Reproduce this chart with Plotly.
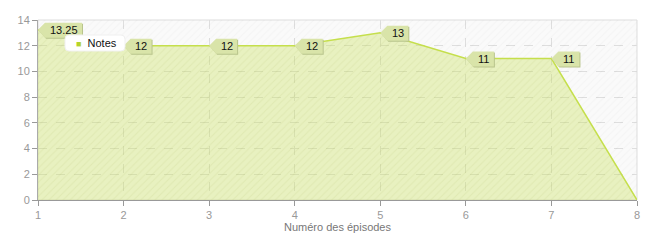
import plotly.graph_objects as go

episodes = [1, 2, 3, 4, 5, 6, 7, 8]
notes = [13.25, 12, 12, 12, 13, 11, 11, 0]
labels = ["13.25", "12", "12", "12", "13", "11", "11", ""]
y_ticks = [0, 2, 4, 6, 8, 10, 12, 14]
x_ticks = [1, 2, 3, 4, 5, 6, 7, 8]
Y_MAX = 14
series_name = "Notes"
x_title = "Numéro des épisodes"

LINE = "#c5df4c"
FILL_RGBA = "rgba(200,225,90,0.36)"
BOX = "#d9e4a9"
BOX_SHADOW = "#b9c48c"
FONT = "Liberation Sans, Arial, sans-serif"

fig = go.Figure()

# hatched plot background (pattern lines only, transparent so grid shows)
fig.add_trace(go.Scatter(
    x=[x_ticks[0], x_ticks[-1]], y=[Y_MAX, Y_MAX], mode="none", fill="tozeroy",
    fillcolor="rgba(0,0,0,0)",
    fillpattern=dict(shape="/", bgcolor="rgba(0,0,0,0)", fgcolor="rgba(0,0,0,0.05)",
                     size=5, solidity=0.2),
    hoverinfo="skip", showlegend=False))

fig.add_trace(go.Scatter(
    x=episodes, y=notes, mode="lines", fill="tozeroy",
    line=dict(color=LINE, width=1.5),
    fillcolor=FILL_RGBA,
    fillpattern=dict(shape="/", bgcolor=FILL_RGBA, fgcolor="rgba(150,180,40,0.12)",
                     size=5, solidity=0.2),
    showlegend=False, name=series_name))

shapes = []
annotations = []
for xv, yv, lab in zip(episodes, notes, labels):
    if not lab:
        continue
    w = int(round(17 + 5.4 * len(lab)))
    for dx, dy, col in ((1, -1, BOX_SHADOW), (0, 0, BOX)):
        path = (f"M{dx},{dy} L{7+dx},{7+dy} L{w+dx},{7+dy} "
                f"L{w+dx},{-8+dy} L{7+dx},{-8+dy} Z")
        shapes.append(dict(
            type="path", xref="x", yref="y", xsizemode="pixel", ysizemode="pixel",
            xanchor=xv, yanchor=yv, path=path, fillcolor=col,
            line=dict(width=0), layer="above"))
    annotations.append(dict(
        x=xv, y=yv, xref="x", yref="y", text=lab, showarrow=False,
        xanchor="center", yanchor="middle", xshift=(w + 7) / 2, yshift=0,
        font=dict(family=FONT, size=11, color="#111")))

# light border on top/right
shapes.append(dict(type="rect", xref="paper", yref="paper", x0=0, x1=1, y0=0, y1=1,
                   line=dict(color="#dddddd", width=1), layer="below"))

# legend box (drawn manually to match the compact rounded look)
LX0, LX1, LY0, LY1 = 65, 125, 35, 51  # pixels in the page
PL, PT, PW, PH = 38, 20, 599, 180
def px2paper(px, py):
    return (px - PL) / PW, (PT + PH - py) / PH
lx0, ly0 = px2paper(LX0, LY1)
lx1, ly1 = px2paper(LX1, LY0)
r = 4
shapes.append(dict(
    type="path", xref="paper", yref="paper", xsizemode="pixel", ysizemode="pixel",
    xanchor=lx0, yanchor=ly0,
    path=(f"M{r},0 L{60-r},0 Q60,0 60,{r} L60,{16-r} Q60,16 {60-r},16 "
          f"L{r},16 Q0,16 0,{16-r} L0,{r} Q0,0 {r},0 Z"),
    fillcolor="white", line=dict(color="#f0f0f0", width=1), layer="above"))
annotations.append(dict(
    x=lx0, y=(ly0 + ly1) / 2, xref="paper", yref="paper", xanchor="left", yanchor="middle",
    xshift=9, showarrow=False,
    text=f"<span style='color:#b5d32c;font-size:9px'>■</span>  {series_name}",
    font=dict(family=FONT, size=11, color="#111")))

fig.update_layout(
    width=658, height=240,
    margin=dict(l=38, r=21, t=20, b=40),
    paper_bgcolor="white", plot_bgcolor="#fafafa",
    font=dict(family=FONT, size=11, color="#888"),
    shapes=shapes, annotations=annotations,
    showlegend=False,
)
fig.update_xaxes(
    range=[x_ticks[0], x_ticks[-1]], tickvals=x_ticks, ticktext=[str(t) for t in x_ticks],
    showgrid=True, gridcolor="#dedede", griddash="dash", gridwidth=1,
    showline=True, linecolor="#999", linewidth=1,
    ticks="outside", ticklen=5, tickcolor="#999",
    tickfont=dict(color="#999", size=11),
    title=dict(text=x_title, font=dict(size=11, color="#777"), standoff=2),
    automargin=False, zeroline=False)
fig.update_yaxes(
    range=[0, Y_MAX], tickvals=y_ticks,
    showgrid=True, gridcolor="#dedede", griddash="dash", gridwidth=1,
    showline=True, linecolor="#aaa", linewidth=1,
    ticks="outside", ticklen=5, tickcolor="#999",
    tickfont=dict(color="#999", size=11),
    automargin=False, zeroline=False)

fig.write_html("out.html")
